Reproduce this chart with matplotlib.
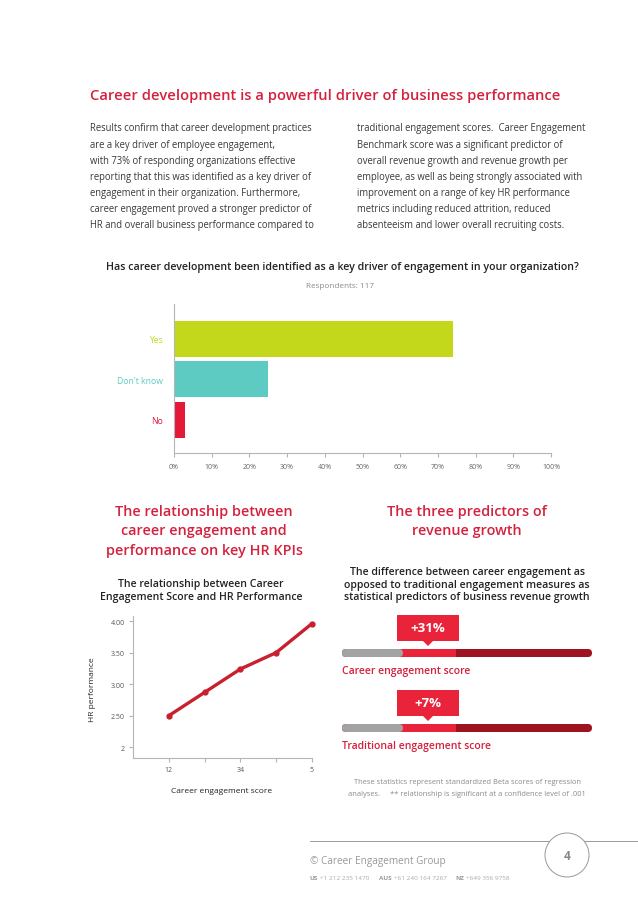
import numpy as np
import matplotlib
matplotlib.use('Agg')
import matplotlib.pyplot as plt
from matplotlib.patches import FancyBboxPatch, Rectangle, Polygon, Circle

plt.rcParams['font.family'] = ['Open Sans', 'DejaVu Sans']

# data
ANSWERS = ['Yes', "Don't know", 'No']
ANSWER_PCT = [74, 25, 3]
ANSWER_COLORS = ['#c3d71b', '#5ecbc2', '#e31937']
PCT_TICKS = list(range(0, 101, 10))

SCORE_X = [1, 2, 3, 4, 5]
HR_PERF = [2.50, 2.87, 3.24, 3.50, 3.96]
SCORE_TICKLABELS = ['12', '', '34', '', '5']
HR_TICKS = [2, 2.5, 3, 3.5, 4]
HR_TICKLABELS = ['2', '2.50', '3.00', '3.50', '4.00']

PREDICTORS = ['Career engagement score', 'Traditional engagement score']
PREDICTOR_GAIN = [31, 7]

RED = '#d4213d'
DARK = '#3a3a3a'
GREY = '#8a8a8a'
AXGREY = '#b5b5b5'

LEFT_COL = [
    "Results confirm that career development practices",
    "are a key driver of employee engagement,",
    "with 73% of responding organizations effective",
    "reporting that this was identified as a key driver of",
    "engagement in their organization. Furthermore,",
    "career engagement proved a stronger predictor of",
    "HR and overall business performance compared to",
]
RIGHT_COL = [
    "traditional engagement scores.  Career Engagement",
    "Benchmark score was a significant predictor of",
    "overall revenue growth and revenue growth per",
    "employee, as well as being strongly associated with",
    "improvement on a range of key HR performance",
    "metrics including reduced attrition, reduced",
    "absenteeism and lower overall recruiting costs.",
]
CONTACTS = [('US', '+1 212 235 1470'), ('AUS', '+61 240 164 7267'), ('NZ', '+649 356 9758')]

W, H = 638, 903
fig = plt.figure(figsize=(W / 100, H / 100), dpi=100)
fig.patch.set_facecolor('white')

# page overlay in pixel coords
pg = fig.add_axes([0, 0, 1, 1])
pg.set_xlim(0, W)
pg.set_ylim(H, 0)
pg.axis('off')

pg.text(90, 96, 'Career development is a powerful driver of business performance',
        color=RED, fontsize=10.6, fontweight='semibold', va='center')
for i, line in enumerate(LEFT_COL):
    pg.text(90, 129 + i * 16.1, line, color=DARK, fontsize=6.85, va='center')
for i, line in enumerate(RIGHT_COL):
    pg.text(357, 129 + i * 16.1, line, color=DARK, fontsize=6.85, va='center')

# horizontal bar chart
pg.text(342, 268, 'Has career development been identified as a key driver of engagement in your organization?',
        color='#222222', fontsize=7.7, fontweight='semibold', ha='center', va='center')
pg.text(340, 287, 'Respondents: 117', color=GREY, fontsize=5.9, ha='center', va='center')

axb = fig.add_axes([174 / W, 1 - 454 / H, 377 / W, 149 / H])
ypos = np.arange(len(ANSWERS))
axb.barh(ypos, ANSWER_PCT, height=0.89, color=ANSWER_COLORS)
axb.set_xlim(0, 100)
axb.set_ylim(2.82, -0.86)
axb.set_yticks(ypos)
axb.set_yticklabels(ANSWERS, fontsize=6.2)
for lab, c in zip(axb.get_yticklabels(), ANSWER_COLORS):
    lab.set_color(c)
axb.tick_params(axis='y', length=0, pad=8)
axb.set_xticks(PCT_TICKS)
axb.set_xticklabels([f'{t}%' for t in PCT_TICKS], fontsize=5.0, color='#666666')
axb.tick_params(axis='x', length=3, color=AXGREY, pad=4)
for s in ['top', 'right']:
    axb.spines[s].set_visible(False)
for s in ['left', 'bottom']:
    axb.spines[s].set_color(AXGREY)
    axb.spines[s].set_linewidth(0.8)

# section headings
for i, line in enumerate(['The relationship between', 'career engagement and', 'performance on key HR KPIs']):
    pg.text(204, 512 + i * 19.5, line, color=RED, fontsize=10.4, fontweight='semibold',
            ha='center', va='center')
for i, line in enumerate(['The three predictors of', 'revenue growth']):
    pg.text(467, 512 + i * 19.5, line, color=RED, fontsize=10.4, fontweight='semibold',
            ha='center', va='center')

for i, line in enumerate(['The relationship between Career', 'Engagement Score and HR Performance']):
    pg.text(201, 585 + i * 12.5, line, color='#222222', fontsize=7.6, fontweight='semibold',
            ha='center', va='center')
for i, line in enumerate(['The difference between career engagement as',
                          'opposed to traditional engagement measures as',
                          'statistical predictors of business revenue growth']):
    pg.text(467, 573 + i * 12.5, line, color='#222222', fontsize=7.6, fontweight='semibold',
            ha='center', va='center')

# line chart
axl = fig.add_axes([133 / W, 1 - 759 / H, 179 / W, 142 / H])
axl.plot(SCORE_X, HR_PERF, color='#c8202f', lw=2.4, marker='o', ms=3.5, clip_on=False,
         solid_capstyle='round')
axl.set_xlim(0, 5)
axl.set_ylim(1.83, 4.08)
axl.set_xticks(SCORE_X)
axl.set_xticklabels(SCORE_TICKLABELS, fontsize=5.0, color='#555555')
axl.set_yticks(HR_TICKS)
axl.set_yticklabels(HR_TICKLABELS, fontsize=5.0, color='#555555')
axl.tick_params(length=3, color=AXGREY, pad=3)
for s in ['top', 'right']:
    axl.spines[s].set_visible(False)
for s in ['left', 'bottom']:
    axl.spines[s].set_color(AXGREY)
    axl.spines[s].set_linewidth(0.8)
pg.text(93, 690, 'HR performance', rotation=90, color='#222222', fontsize=6.0,
        ha='center', va='center')
pg.text(222, 792, 'Career engagement score', color='#222222', fontsize=6.0,
        ha='center', va='center')

# predictor bars
bx0, bx1, bh = 342, 592, 8
for i, (name, gain) in enumerate(zip(PREDICTORS, PREDICTOR_GAIN)):
    yc = 654 + i * 75
    pg.add_patch(FancyBboxPatch((bx0, yc - bh / 2), bx1 - bx0, bh,
                                boxstyle='round,pad=0,rounding_size=4', fc='#9e1320', ec='none'))
    pg.add_patch(Rectangle((398, yc - bh / 2), 58, bh, fc='#e8233a', ec='none'))
    pg.add_patch(FancyBboxPatch((bx0, yc - bh / 2), 61, bh,
                                boxstyle='round,pad=0,rounding_size=4', fc='#a3a3a3', ec='none'))
    # callout
    top = yc - 38
    pg.add_patch(Rectangle((397, top), 62, 26, fc='#e8233a', ec='none'))
    pg.add_patch(Polygon([(423, top + 26), (433, top + 26), (428, top + 31)],
                         closed=True, fc='#e8233a', ec='none'))
    pg.text(428, top + 13, f'+{gain}%', color='white', fontsize=9.5, fontweight='bold',
            ha='center', va='center')
    pg.text(342, yc + 18, name, color=RED, fontsize=7.5, fontweight='semibold', va='center')

pg.text(467, 783, 'These statistics represent standardized Beta scores of regression',
        color=GREY, fontsize=5.4, ha='center', va='center')
pg.text(467, 795, 'analyses.     ** relationship is significant at a confidence level of .001',
        color=GREY, fontsize=5.4, ha='center', va='center')

# footer
pg.plot([310, W], [842, 842], color='#999999', lw=0.7)
pg.add_patch(Circle((567, 856), 22, fc='white', ec='#999999', lw=0.7, zorder=3))
pg.text(567, 857, '4', color='#888888', fontsize=8.5, fontweight='bold',
        ha='center', va='center', zorder=4)
pg.text(310, 862, '\u00a9 Career Engagement Group', color='#999999', fontsize=7.2, va='center')

renderer = fig.canvas.get_renderer()
x = 310
for code, num in CONTACTS:
    t = pg.text(x, 879, code, color='#999999', fontsize=4.6, fontweight='bold', va='center')
    x += t.get_window_extent(renderer).width + 2
    t = pg.text(x, 879, num, color='#aaaaaa', fontsize=4.6, va='center')
    x += t.get_window_extent(renderer).width + 9

fig.savefig('out.png', dpi=100, facecolor='white')
